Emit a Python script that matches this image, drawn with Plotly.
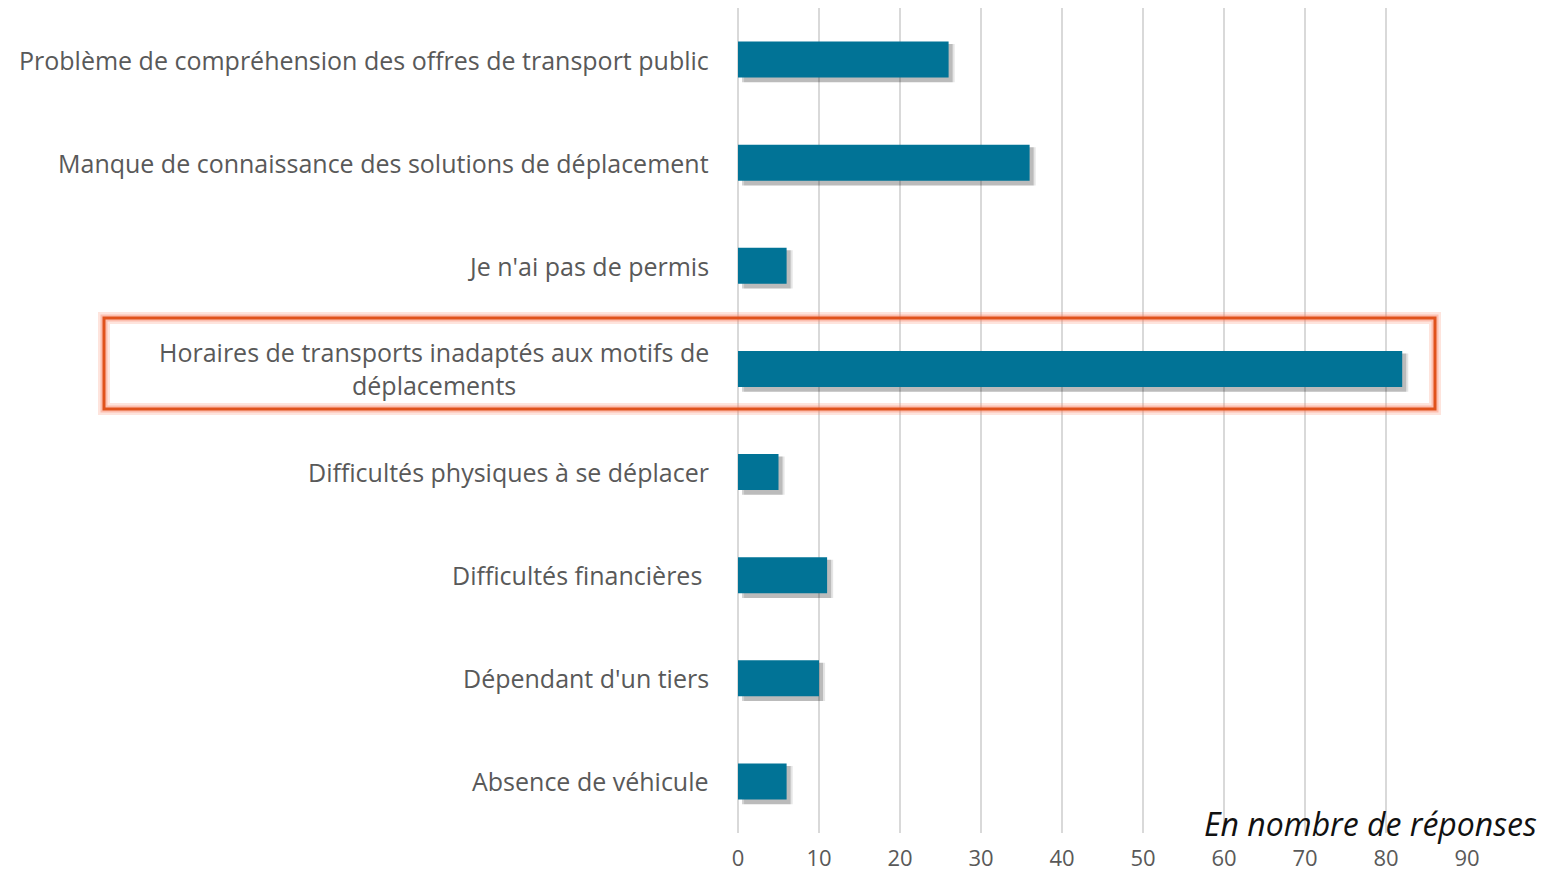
import plotly.graph_objects as go

categories = [
    "Problème de compréhension des offres de transport public",
    "Manque de connaissance des solutions de déplacement",
    "Je n'ai pas de permis",
    "Horaires de transports inadaptés aux motifs de<br>déplacements",
    "Difficultés physiques à se déplacer",
    "Difficultés financières ",
    "Dépendant d'un tiers",
    "Absence de véhicule",
]
values = [26, 36, 6, 82, 5, 11, 10, 6]
tick_values = [0, 10, 20, 30, 40, 50, 60, 70, 80, 90]

BAR = "#017396"
LABEL = "#595959"
FONT = "Open Sans"

fig = go.Figure()

# soft shadow behind bars
for b, a in [(0.75, 0.10), (0.5, 0.18)]:
    fig.add_trace(go.Bar(
        y=categories, x=values, base=b, orientation="h",
        width=0.37, offset=-0.15,
        marker=dict(color=f"rgba(0,0,0,{a})", line=dict(width=0)),
        hoverinfo="skip", showlegend=False,
    ))
fig.add_trace(go.Bar(
    y=categories, x=values, orientation="h",
    width=0.35, offset=-0.175,
    marker=dict(color=BAR, line=dict(width=0)),
    showlegend=False,
))

# page offset (body margin 8px)
OFF = 8
W, H = 1562 - 2 * OFF, 880 - 2 * OFF
L = 738 - OFF
T = 8 - OFF
B = H - (833 - OFF)
R = W - (1467 - OFF)
pw = W - L - R
ph = H - T - B

def px_x(px):
    return (px - OFF - L) / pw

def px_y(py):
    return (H - B - (py - OFF)) / ph

# category labels as annotations (centered multi-line)
for c in categories:
    fig.add_annotation(
        xref="paper", yref="y", x=px_x(711), y=c,
        text=c, showarrow=False, xanchor="right", yanchor="middle",
        align="center", font=dict(family=FONT, size=25, color=LABEL),
    )

# highlight rectangle with glow
for lw, col in [(12, "rgba(250,130,100,0.22)"), (7, "rgba(250,120,90,0.35)"), (3, "#E0521C")]:
    fig.add_shape(
        type="rect", xref="paper", yref="paper",
        x0=px_x(104), x1=px_x(1435), y0=px_y(409), y1=px_y(318),
        line=dict(color=col, width=lw), fillcolor="rgba(0,0,0,0)", layer="above",
    )

fig.add_annotation(
    xref="paper", yref="paper", x=px_x(1539), y=px_y(823),
    text="<i>En nombre de réponses</i>", showarrow=False,
    xanchor="right", yanchor="middle",
    font=dict(family=FONT, size=32, color="#111111"),
)

fig.update_layout(
    width=W, height=H,
    margin=dict(l=L, r=R, t=T, b=B, autoexpand=False),
    paper_bgcolor="white", plot_bgcolor="white",
    barmode="overlay",
    font=dict(family=FONT, color=LABEL),
)
fig.update_xaxes(
    range=[0, 90], tickvals=tick_values, ticktext=[str(v) for v in tick_values],
    showgrid=True, gridcolor="#D9D9D9", gridwidth=2,
    zeroline=True, zerolinecolor="#D9D9D9", zerolinewidth=2,
    showline=False, ticks="", ticklabelstandoff=10, automargin=False,
    tickfont=dict(family=FONT, size=22, color=LABEL),
)
fig.update_yaxes(
    categoryorder="array", categoryarray=categories, autorange="reversed",
    showticklabels=False, showgrid=False, zeroline=False, showline=False, ticks="",
    automargin=False,
)

fig.write_html("out.html")
